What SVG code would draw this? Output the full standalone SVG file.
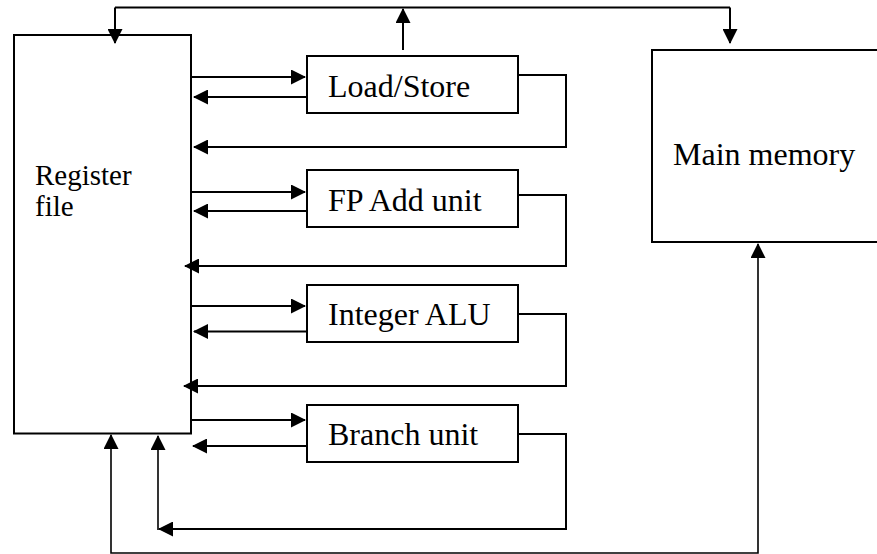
<svg xmlns="http://www.w3.org/2000/svg" width="877" height="554" viewBox="0 0 877 554">
<style>
.box{fill:#fff;stroke:#000;stroke-width:2}
.lbl{font-family:"Liberation Serif","Times New Roman",serif;font-size:32px;fill:#000}
.reg{font-size:29px}
.c{fill:none;stroke:#000;stroke-width:2;marker-end:url(#arr)}
.t{stroke-width:1.6}
.plain{fill:none;stroke:#000;stroke-width:2}
</style>
<defs>
<marker id="arr" markerUnits="userSpaceOnUse" markerWidth="15" markerHeight="15" refX="14" refY="7.5" orient="auto-start-reverse">
<path d="M0,0 L15,7.5 L0,15 z" fill="#000"/>
</marker>
</defs>
<rect x="0" y="0" width="877" height="554" fill="#fff"/>
<g id="register-file">
<rect class="box" x="14" y="35" width="177" height="398.5"/>
<text class="lbl reg" x="35" y="185">Register</text>
<text class="lbl reg" x="35" y="216">file</text>
</g>
<g id="load-store">
<rect class="box" x="307" y="56" width="211" height="57"/>
<text class="lbl" x="328" y="96.5">Load/Store</text>
</g>
<g id="fp-add">
<rect class="box" x="307" y="170" width="211" height="57"/>
<text class="lbl" x="328" y="210.5">FP Add unit</text>
</g>
<g id="integer-alu">
<rect class="box" x="307" y="285" width="211" height="57"/>
<text class="lbl" x="328" y="325">Integer ALU</text>
</g>
<g id="branch-unit">
<rect class="box" x="307" y="405" width="211" height="57"/>
<text class="lbl" x="328" y="445">Branch unit</text>
</g>
<g id="main-memory">
<rect class="box" x="652" y="50" width="240" height="192"/>
<text class="lbl" x="673" y="165">Main memory</text>
</g>
<g id="connectors">
<path class="plain" d="M115,7.5 H730"/>
<path class="c" d="M115,7.5 V43"/>
<path class="c" d="M730,7.5 V43"/>
<path class="c" d="M403,50 V9"/>
<path class="c" d="M191,77 H305"/>
<path class="c" d="M307,97 H194"/>
<path class="c" d="M518,75 H566 V147 H194"/>
<path class="c" d="M191,192 H305"/>
<path class="c" d="M307,211 H194"/>
<path class="c" d="M518,195 H566 V266 H185"/>
<path class="c" d="M191,306 H305"/>
<path class="c" d="M307,331.5 H194"/>
<path class="c" d="M518,314 H566 V386 H184"/>
<path class="c" d="M191,420 H305"/>
<path class="c" d="M307,446 H193"/>
<path class="c" d="M518,434 H566 V529 H159"/>
<path class="c t" d="M158,530 V436"/>
<path class="c t" d="M111,435 V553 H758 V244" style="marker-start:url(#arr)"/>
</g>
</svg>
